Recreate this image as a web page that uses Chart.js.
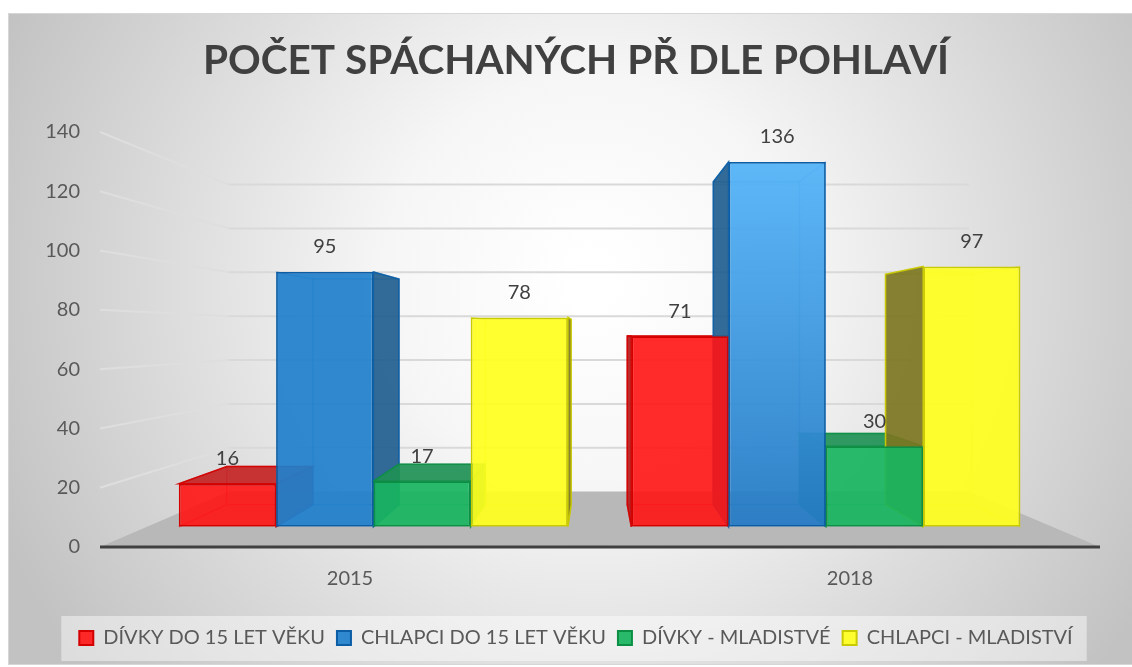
<!DOCTYPE html>
<html>
<head>
<meta charset="utf-8">
<script src="https://cdn.jsdelivr.net/npm/chart.js@4.4.0/dist/chart.umd.min.js"></script>
<style>
  html, body { margin: 0; padding: 0; background: #fff; }
  #chart { display: block; }
</style>
</head>
<body>
<canvas id="chart" width="1132" height="667"></canvas>
<script>
// data
var categories = ["2015", "2018"];
var seriesNames = ["DÍVKY DO 15 LET VĚKU", "CHLAPCI DO 15 LET VĚKU", "DÍVKY - MLADISTVÉ", "CHLAPCI - MLADISTVÍ"];
var divkyDo15 = [16, 71];
var chlapciDo15 = [95, 136];
var divkyMladistve = [17, 30];
var chlapciMladistvi = [78, 97];
var yMax = 140;
var yStep = 20;

// barvy: predni stena, okraj, bocni stena, horni stena
var fronts = ["rgba(255,20,20,0.9)", "rgba(32,128,204,0.92)", "rgba(24,180,96,0.92)", "rgba(255,255,30,0.92)"];
var borders = ["#D40000", "#0B5EA6", "#0C8F44", "#CACA00"];
var sides = ["#B51A1A", "#215E8E", "#16834A", "#7C7622"];
var tops = ["#C42424", "#2A78BC", "#1F9055", "#DADA22"];

// perspektiva (odhad z obrazku)
var VPX = 596, VPY = 334;
var K_WALL = 0.74, K_FRONT = 0.905, K_BACK = 0.801;

function proj(k, x, y) {
  return [VPX + (x - VPX) * k, VPY + (y - VPY) * k];
}

function poly(ctx, pts, fill, stroke) {
  ctx.beginPath();
  ctx.moveTo(pts[0][0], pts[0][1]);
  for (var i = 1; i < pts.length; i++) ctx.lineTo(pts[i][0], pts[i][1]);
  ctx.closePath();
  if (fill) { ctx.fillStyle = fill; ctx.fill(); }
  if (stroke) { ctx.strokeStyle = stroke; ctx.stroke(); }
}

var scenePlugin = {
  id: "scene",
  beforeDraw: function (chart) {
    var ctx = chart.ctx;
    ctx.save();
    ctx.fillStyle = "#fff";
    ctx.fillRect(0, 0, chart.width, chart.height);
    var g = ctx.createRadialGradient(590, 280, 20, 590, 280, 640);
    g.addColorStop(0, "#FFFFFF");
    g.addColorStop(0.3, "#F6F6F6");
    g.addColorStop(1, "#C2C2C2");
    ctx.fillStyle = g;
    ctx.fillRect(8, 13, chart.width - 8, 652);
    ctx.strokeStyle = "#D6D6D6";
    ctx.lineWidth = 1;
    ctx.strokeRect(8.5, 13.5, chart.width, 651);

    // pozadi legendy
    var boxes = chart.legend.legendHitBoxes;
    if (boxes && boxes.length) {
      var first = boxes[0], last = boxes[boxes.length - 1];
      var cy = first.top + first.height / 2;
      ctx.fillStyle = "rgba(255,255,255,0.45)";
      ctx.fillRect(first.left - 18, cy - 22, last.left + last.width - first.left + 32, 45);
    }
    ctx.restore();
  },
  beforeDatasetsDraw: function (chart) {
    var ctx = chart.ctx;
    var a = chart.chartArea;
    var ys = chart.scales.y;
    var y0 = ys.getPixelForValue(0);

    ctx.save();
    // podlaha
    poly(ctx, [[a.left, y0], [a.right, y0], proj(K_WALL, a.right, y0), proj(K_WALL, a.left, y0)], "#B8B8B8");

    // mrizka na zadni a bocni stene
    ctx.lineWidth = 2;
    ys.ticks.forEach(function (t) {
      var yy = ys.getPixelForValue(t.value);
      var bl = proj(K_WALL, a.left, yy);
      var br = proj(K_WALL, a.right, yy);
      if (t.value > 0) {
        ctx.strokeStyle = "#DEDEDE";
        ctx.beginPath();
        ctx.moveTo(a.left, yy);
        ctx.lineTo(bl[0], bl[1]);
        ctx.stroke();
        ctx.strokeStyle = "#D9D9D9";
        ctx.beginPath();
        ctx.moveTo(bl[0], bl[1]);
        ctx.lineTo(br[0], br[1]);
        ctx.stroke();
      }
    });

    // osa x
    ctx.strokeStyle = "#404040";
    ctx.lineWidth = 3;
    ctx.beginPath();
    ctx.moveTo(a.left, y0);
    ctx.lineTo(a.right, y0);
    ctx.stroke();

    // zadni a bocni steny sloupcu
    ctx.lineWidth = 1.5;
    chart.data.datasets.forEach(function (ds, di) {
      var meta = chart.getDatasetMeta(di);
      meta.data.forEach(function (el) {
        var L = el.x - el.width / 2, R = el.x + el.width / 2, T = el.y, B = el.base;
        var fTL = proj(K_FRONT, L, T), fTR = proj(K_FRONT, R, T), fBL = proj(K_FRONT, L, B), fBR = proj(K_FRONT, R, B);
        var bTL = proj(K_BACK, L, T), bTR = proj(K_BACK, R, T), bBL = proj(K_BACK, L, B), bBR = proj(K_BACK, R, B);
        // vnitrni hrany
        ctx.globalAlpha = 0.45;
        poly(ctx, [bTL, bTR, bBR, bBL], null, borders[di]);
        ctx.beginPath();
        [[fTL, bTL], [fTR, bTR], [fBL, bBL], [fBR, bBR]].forEach(function (e) {
          ctx.moveTo(e[0][0], e[0][1]);
          ctx.lineTo(e[1][0], e[1][1]);
        });
        ctx.stroke();
        ctx.globalAlpha = 0.92;
        if (fTR[0] < VPX) poly(ctx, [fTR, bTR, bBR, fBR], sides[di], borders[di]);
        if (fTL[0] > VPX) poly(ctx, [fTL, bTL, bBL, fBL], sides[di], borders[di]);
        if (fTL[1] > VPY) poly(ctx, [fTL, fTR, bTR, bTL], tops[di], borders[di]);
        ctx.globalAlpha = 1;
      });
    });
    ctx.restore();

    // predni steny kresli Chart.js v posunute hloubce
    ctx.save();
    ctx.translate(VPX, VPY);
    ctx.scale(K_FRONT, K_FRONT);
    ctx.translate(-VPX, -VPY);
  },
  afterDatasetsDraw: function (chart) {
    var ctx = chart.ctx;
    ctx.restore();
    ctx.save();
    ctx.font = "20px Lato";
    ctx.fillStyle = "#404040";
    ctx.textAlign = "center";
    ctx.textBaseline = "middle";
    chart.data.datasets.forEach(function (ds, di) {
      var meta = chart.getDatasetMeta(di);
      meta.data.forEach(function (el, i) {
        var p = proj(K_FRONT, el.x, el.y);
        ctx.fillText(String(ds.data[i]), p[0], p[1] - 25);
      });
    });
    ctx.restore();
  }
};

// modry sloupec 2018 je svetlejsi nahore
function blueFill(c) {
  if (c.type !== "data" || c.dataIndex !== 1 || !c.chart.chartArea) return fronts[1];
  var ys = c.chart.scales.y;
  var g = c.chart.ctx.createLinearGradient(0, ys.getPixelForValue(c.raw), 0, ys.getPixelForValue(0));
  g.addColorStop(0, "rgba(84,180,248,0.94)");
  g.addColorStop(1, "rgba(36,122,196,0.94)");
  return g;
}

var seriesData = [divkyDo15, chlapciDo15, divkyMladistve, chlapciMladistvi];
var datasets = seriesData.map(function (d, i) {
  return {
    label: seriesNames[i],
    data: d,
    backgroundColor: i === 1 ? blueFill : fronts[i],
    borderColor: borders[i],
    borderWidth: 2,
    borderSkipped: false,
    categoryPercentage: 0.86,
    barPercentage: 1
  };
});

function makeChart() {
  new Chart(document.getElementById("chart").getContext("2d"), {
    type: "bar",
    data: { labels: categories, datasets: datasets },
    plugins: [scenePlugin],
    options: {
      responsive: false,
      animation: false,
      layout: { padding: { left: 20, right: 0, top: 13, bottom: 9 } },
      plugins: {
        title: {
          display: true,
          text: "POČET SPÁCHANÝCH PŘ DLE POHLAVÍ",
          color: "#404040",
          font: { family: "Lato", size: 40.5, weight: "bold" },
          padding: { top: 24, bottom: 46.4 }
        },
        legend: {
          position: "bottom",
          labels: {
            generateLabels: function (chart) {
              var items = Chart.defaults.plugins.legend.labels.generateLabels(chart);
              items.forEach(function (it, i) { it.fillStyle = fronts[i]; });
              return items;
            },
            boxWidth: 14,
            boxHeight: 14,
            padding: 12,
            color: "#595959",
            font: { family: "Lato", size: 20 }
          }
        },
        tooltip: { enabled: false }
      },
      scales: {
        x: {
          grid: { display: false, drawTicks: false },
          border: { display: false },
          ticks: { padding: 20, color: "#595959", font: { family: "Lato", size: 20 } },
          afterFit: function (s) { s.height = 69; }
        },
        y: {
          min: 0,
          max: yMax,
          grid: { display: false, drawTicks: false },
          border: { display: false },
          ticks: { stepSize: yStep, padding: 20, color: "#595959", font: { family: "Lato", size: 20 } },
          afterFit: function (s) { s.width = 80; }
        },
        // prazdna osa vpravo jen kvuli okraji
        yRight: {
          position: "right",
          display: true,
          ticks: { display: false },
          grid: { display: false, drawTicks: false },
          border: { display: false },
          afterFit: function (s) { s.width = 32; }
        }
      }
    }
  });
}

if (document.fonts && document.fonts.load) {
  Promise.all([document.fonts.load("bold 40.5px Lato"), document.fonts.load("20px Lato")]).then(makeChart, makeChart);
} else {
  makeChart();
}
</script>
</body>
</html>
